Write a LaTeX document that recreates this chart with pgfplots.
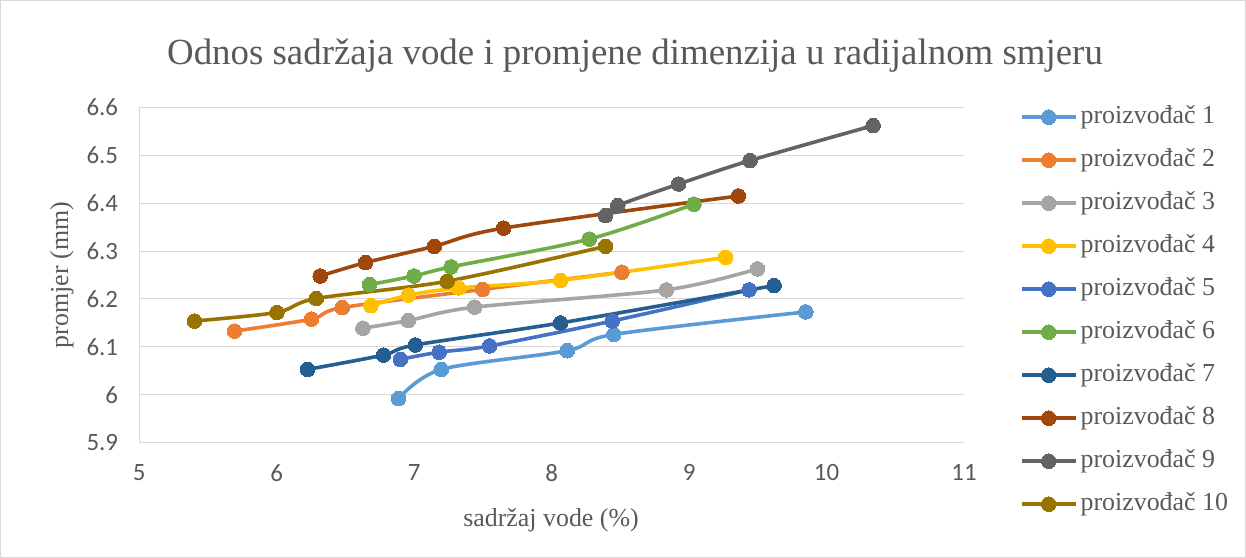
\documentclass[border=0pt]{standalone}
\usepackage{pgfplots}
\pgfplotsset{compat=1.18}
\usepackage{fontspec}
\setmainfont{Liberation Serif}
\newfontfamily\calibri{Carlito}
\definecolor{c1}{HTML}{5B9BD5}
\definecolor{c2}{HTML}{ED7D31}
\definecolor{c3}{HTML}{A5A5A5}
\definecolor{c4}{HTML}{FFC000}
\definecolor{c5}{HTML}{4472C4}
\definecolor{c6}{HTML}{70AD47}
\definecolor{c7}{HTML}{255E91}
\definecolor{c8}{HTML}{9E480E}
\definecolor{c9}{HTML}{636363}
\definecolor{c10}{HTML}{997300}
\definecolor{txt}{HTML}{595959}
\definecolor{gridc}{HTML}{D9D9D9}
\pgfplotsset{ser/.style={color=#1, line width=3.6bp, smooth, tension=0.5, mark=*, mark size=7.3bp, mark options={fill=#1, draw=#1, line width=0bp}}}
\begin{document}
\begin{tikzpicture}[x=1bp,y=1bp]
\useasboundingbox (0,0) rectangle (1246,558);
\draw[gridc, line width=1bp] (0.5,0.5) rectangle (1245.5,557.5);
\node[txt, font=\fontsize{37}{43}\selectfont, anchor=base] at (635,493) {Odnos sadržaja vode i promjene dimenzija u radijalnom smjeru};
\node[txt, font=\fontsize{26}{30}\selectfont, rotate=90] at (62,283) {promjer (mm)};
\node[txt, font=\fontsize{26}{30}\selectfont] at (551,38) {sadržaj vode (\%)};
\begin{axis}[
  at={(139.3bp,115.3bp)}, anchor=south west, scale only axis,
  width=824.7bp, height=335.3bp,
  xmin=5, xmax=11, ymin=5.9, ymax=6.6,
  xtick={5,6,7,8,9,10,11},
  ytick={5.9,6.0,6.1,6.2,6.3,6.4,6.5,6.6},
  axis x line*=bottom, axis y line*=left,
  axis line style={gridc, line width=1bp},
  ymajorgrids, grid style={gridc, line width=1bp},
  major tick length=0pt, tick style={draw=none},
  /pgf/number format/assume math mode=true,
  ticklabel style={font=\calibri\fontsize{25}{30}\selectfont, text=txt},
  yticklabel style={/pgf/number format/fixed, /pgf/number format/precision=1, xshift=-17.7bp},
  xticklabel style={yshift=-18bp},
  legend style={at={(1.064,1.0131)}, anchor=north west, draw=none, fill=none,
    font=\fontsize{26}{30}\selectfont, text=txt, row sep=19bp, column sep=3bp,
    nodes={inner sep=0bp, text height=18bp, text depth=6bp}},
  legend cell align=left,
  legend image code/.code={\draw[#1, mark repeat=2, mark phase=2] plot coordinates {(0bp,0bp) (27bp,0bp) (54bp,0bp)};},
  clip=false,
]
\addplot[ser=c1] coordinates {(6.886,5.992) (7.197,6.053) (8.113,6.092) (8.452,6.126) (9.849,6.173)};
\addlegendentry{proizvođač 1}
\addplot[ser=c2] coordinates {(5.692,6.133) (6.253,6.158) (6.476,6.182) (7.498,6.220) (8.511,6.256)};
\addlegendentry{proizvođač 2}
\addplot[ser=c3] coordinates {(6.627,6.139) (6.957,6.155) (7.440,6.183) (8.834,6.219) (9.497,6.263)};
\addlegendentry{proizvođač 3}
\addplot[ser=c4] coordinates {(6.685,6.186) (6.959,6.208) (7.323,6.223) (8.066,6.239) (9.266,6.287)};
\addlegendentry{proizvođač 4}
\addplot[ser=c5] coordinates {(6.899,6.074) (7.181,6.089) (7.549,6.102) (8.441,6.154) (9.436,6.219)};
\addlegendentry{proizvođač 5}
\addplot[ser=c6] coordinates {(6.675,6.230) (6.998,6.248) (7.268,6.267) (8.273,6.325) (9.035,6.398)};
\addlegendentry{proizvođač 6}
\addplot[ser=c7] coordinates {(6.224,6.053) (6.777,6.083) (7.008,6.104) (8.064,6.150) (9.618,6.228)};
\addlegendentry{proizvođač 7}
\addplot[ser=c8] coordinates {(6.316,6.248) (6.646,6.276) (7.146,6.310) (7.651,6.348) (9.358,6.415)};
\addlegendentry{proizvođač 8}
\addplot[ser=c9] coordinates {(8.392,6.374) (8.481,6.395) (8.924,6.440) (9.443,6.489) (10.339,6.562)};
\addlegendentry{proizvođač 9}
\addplot[ser=c10] coordinates {(5.401,6.154) (6.001,6.172) (6.287,6.201) (7.239,6.237) (8.392,6.310)};
\addlegendentry{proizvođač 10}
\end{axis}
\end{tikzpicture}
\end{document}
